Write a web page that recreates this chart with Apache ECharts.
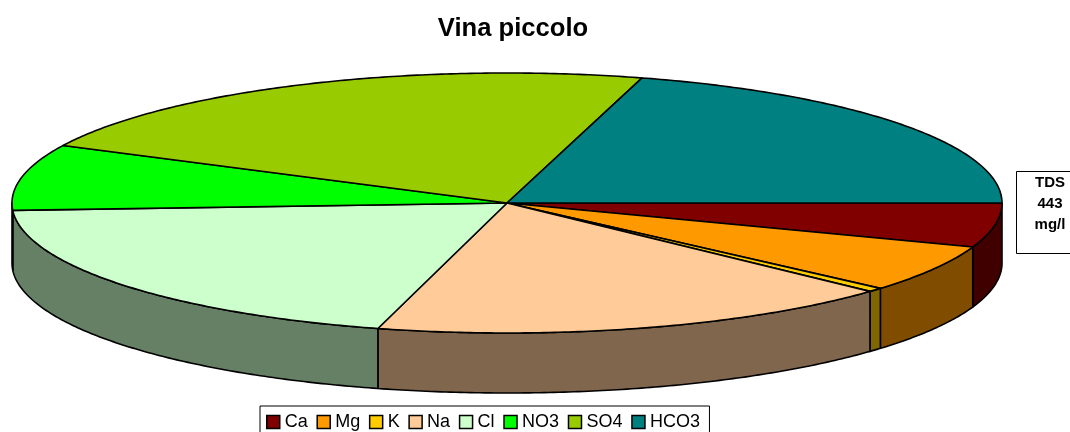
<!DOCTYPE html>
<html>
<head>
<meta charset="utf-8">
<style>
html,body{margin:0;padding:0;background:#fff;overflow:hidden}
#chart{width:1070px;height:432px}
</style>
<script src="https://cdn.jsdelivr.net/npm/echarts@6/dist/echarts.min.js"></script>
</head>
<body>
<div id="chart"></div>
<script>
var categories=['Ca','Mg','K','Na','Cl','NO3','SO4','HCO3'];
var shares=[5.5,5.9,0.5,17.3,19.9,8.2,22.1,20.6];
var colors=['#800000','#FF9900','#FFCC00','#FFCC99','#CCFFCC','#00FF00','#99CC00','#008080'];
var titleText='Vina piccolo';
var tdsLines=['TDS','443','mg/l'];

var depth=60;//height of the pie wall in px
var font='"Liberation Sans",Arial,sans-serif';
var total=shares.reduce(function(a,b){return a+b},0);

//wall colour is the slice colour at half brightness
function dark(hex){
	var n=parseInt(hex.slice(1),16);
	return 'rgb('+(n>>16&255)/2+','+(n>>8&255)/2+','+(n&255)/2+')';
}

function rim(api,a0,a1){
	var pts=[],n=Math.max(2,Math.ceil((a1-a0)/0.01));
	for(var i=0;i<=n;i++){
		var a=a0+(a1-a0)*i/n;
		pts.push(api.coord([Math.cos(a),Math.sin(a)]));
	}
	return pts;
}

function slice(index){
	var before=shares.slice(0,index).reduce(function(a,b){return a+b},0);
	var a0=before/total*Math.PI*2;
	var a1=(before+shares[index])/total*Math.PI*2;
	return function(params,api){
		var children=[];
		var lineStyle={stroke:'#000',lineWidth:1.6,lineJoin:'round'};
		//only the front half of the wall shows
		var w0=a0,w1=Math.min(a1,Math.PI);
		if(w0<Math.PI){
			var top=rim(api,w0,w1);
			var bottom=top.map(function(p){return [p[0],p[1]+depth]}).reverse();
			children.push({
				type:'polygon',
				shape:{points:top.concat(bottom)},
				style:Object.assign({fill:dark(colors[index])},lineStyle)
			});
		}
		children.push({
			type:'polygon',
			shape:{points:[api.coord([0,0])].concat(rim(api,a0,a1))},
			style:Object.assign({fill:colors[index]},lineStyle)
		});
		return {type:'group',children:children};
	};
}

var series=categories.map(function(name,i){
	return {
		name:name,
		type:'custom',
		coordinateSystem:'cartesian2d',
		itemStyle:{color:colors[i]},
		encode:{x:0,y:1},
		data:[[0,0]],
		clip:false,
		silent:true,
		renderItem:slice(i)
	};
});

var chart=echarts.init(document.getElementById('chart'),null,{renderer:'canvas'});
chart.setOption({
	animation:false,
	backgroundColor:'#fff',
	title:{
		text:titleText,
		left:508,
		top:10.5,
		textAlign:'center',
		textStyle:{color:'#000',fontFamily:font,fontWeight:'bold',fontSize:25.6}
	},
	grid:{left:12,right:68,top:73,bottom:99},
	xAxis:{type:'value',min:-1,max:1,show:false},
	yAxis:{type:'value',min:-1,max:1,inverse:true,show:false},
	legend:{
		data:categories,
		left:260,
		top:406,
		orient:'horizontal',
		padding:[7,9.5,8,6],
		itemGap:8.7,
		itemWidth:13,
		itemHeight:13,
		icon:'rect',
		itemStyle:{borderColor:'#000',borderWidth:1.5},
		backgroundColor:'#fff',
		borderColor:'#000',
		borderWidth:1,
		selectedMode:false,
		textStyle:{color:'#000',fontFamily:font,fontSize:18,padding:[0,0,0,0]}
	},
	graphic:[
		{
			type:'rect',
			left:1016,
			top:171,
			shape:{width:70,height:82},
			style:{fill:'#fff',stroke:'#000',lineWidth:1}
		},
		{
			type:'text',
			x:1050,
			y:172.5,
			style:{
				text:tdsLines.join('\n'),
				fill:'#000',
				font:'bold 15px '+font,
				align:'center',
				verticalAlign:'top',
				lineHeight:21
			}
		}
	],
	series:series
});
</script>
</body>
</html>
